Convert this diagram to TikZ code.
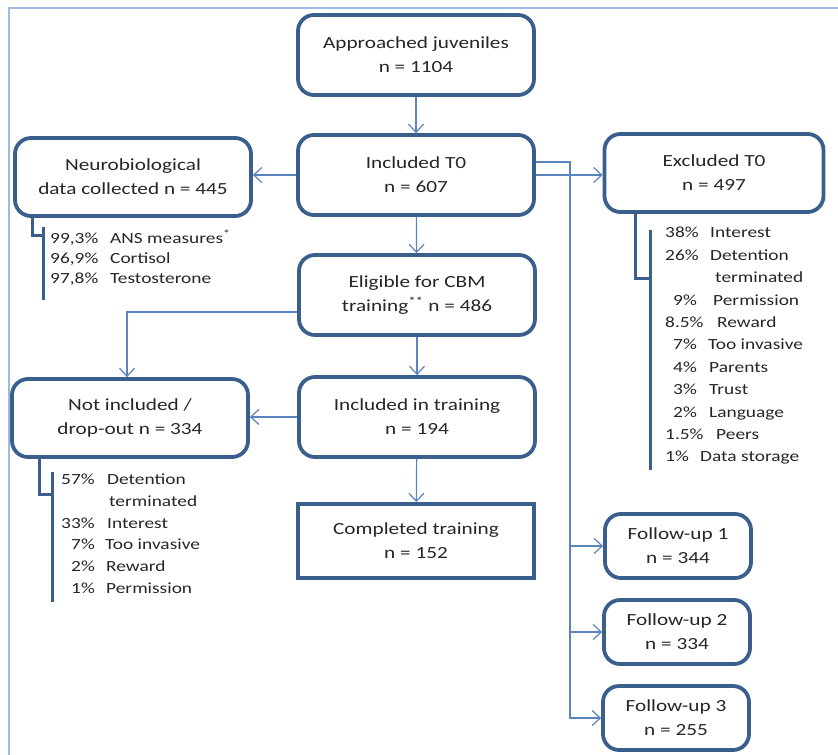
\documentclass[tikz,border=0pt]{standalone}
\usepackage{fontspec}
\setmainfont{Carlito}[FakeStretch=1.25]
\usepackage{xcolor}
\usepackage{tikz}
\usetikzlibrary{positioning,calc,arrows.meta}
\definecolor{boxblue}{HTML}{3B5F8C}
\definecolor{linkblue}{HTML}{5B84BF}
\definecolor{frameblue}{HTML}{9DBAE0}
\newcommand{\pctrow}[4]{\rlap{\hspace{#1pt}#2}\hspace{#3pt}#4}

\begin{document}
\begin{tikzpicture}[x=1pt, y=-1pt,
    box/.style={draw=boxblue, line width=3.8pt, rounded corners=16pt, align=center, text=black!85,
        minimum width=236pt, minimum height=80pt, font=\fontsize{17}{24}\selectfont},
    sqbox/.style={box, rounded corners=0pt},
    fubox/.style={box, minimum width=146pt, minimum height=64pt},
    list/.style={anchor=north west, inner sep=0pt, text=black!85, font=\fontsize{15.5}{#1}\selectfont},
    link/.style={draw=linkblue, line width=1.2pt},
    arr/.style={link, -{Straight Barb[length=8pt,width=15pt]}},
    brk/.style={draw=boxblue, line width=3pt}]
    \useasboundingbox (0,0) rectangle (838,755);
    \draw[frameblue, line width=1.2pt] (838,8) -- (9,8) -- (9,755);

    \node[box] (appr) at (416,55) {Approached juveniles\\n = 1104};
    \node[box] (incl) at (416,175) {Included T0\\n = 607};
    \node[box, minimum height=78pt] (neuro) at (133,177) {Neurobiological\\data collected n = 445};
    \node[box, minimum width=219pt, minimum height=78pt] (excl) at (714,173) {Excluded T0\\n = 497};
    \node[box] (elig) at (417,295) {Eligible for CBM\\training\textsuperscript{**} n = 486};
    \node[box] (intr) at (417,417) {Included in training\\n = 194};
    \node[sqbox, minimum height=74pt] (compl) at (416,541) {Completed training\\n = 152};
    \node[box, minimum height=78pt] (notin) at (130,418) {Not included /\\drop-out n = 334};
    \node[fubox] (fu1) at (678,546) {Follow-up 1\\n = 344};
    \node[fubox] (fu2) at (677,632) {Follow-up 2\\n = 334};
    \node[fubox] (fu3) at (676,718) {Follow-up 3\\n = 255};

    \draw[arr] (appr) -- (incl);
    \draw[arr] (incl.west) -- (incl.west -| neuro.east);
    \draw[arr] (incl.east) -- (incl.east -| excl.west);
    \draw[arr] (incl) -- (elig);
    \draw[arr] (elig) -- (intr);
    \draw[arr] (intr) -- (compl);
    \draw[arr] (intr.west) -- (intr.west -| notin.east);
    \draw[arr] ([yshift=-17pt]elig.west) -| ([xshift=-3pt]notin.north);
    \coordinate (trunk) at (570,162);
    \draw[arr] ([yshift=13pt]incl.east) -- (trunk) |- (fu3);
    \draw[arr] (trunk |- fu1) -- (fu1);
    \draw[arr] (trunk |- fu2) -- (fu2);

    \draw[brk] (32,216) -- (32,235) -- (43,235);
    \draw[brk] (43,227) -- (43,300);
    \draw[brk] (635,212) -- (635,278) -- (650,278);
    \draw[brk] (650,230) -- (650,470);
    \draw[brk] (39,458) -- (39,494) -- (52,494);
    \draw[brk] (52,472) -- (52,602);

    \node[list=20pt] (neurolist) at (50,229) {\begin{tabular}{@{}l@{}}
        \pctrow{0}{99,3\%}{60}{ANS measures\textsuperscript{*}}\\
        \pctrow{0}{96,9\%}{60}{Cortisol}\\
        \pctrow{0}{97,8\%}{60}{Testosterone}
    \end{tabular}};
    \node[list=22.4pt] (excllist) at (665,222) {\begin{tabular}{@{}l@{}}
        \pctrow{0}{38\%}{45}{Interest}\\
        \pctrow{0}{26\%}{45}{Detention}\\
        \pctrow{0}{}{50}{terminated}\\
        \pctrow{8}{9\%}{48}{Permission}\\
        \pctrow{0}{8.5\%}{52}{Reward}\\
        \pctrow{8}{7\%}{43}{Too invasive}\\
        \pctrow{8}{4\%}{44}{Parents}\\
        \pctrow{8}{3\%}{44}{Trust}\\
        \pctrow{8}{2\%}{44}{Language}\\
        \pctrow{0}{1.5\%}{51}{Peers}\\
        \pctrow{0}{1\%}{35}{Data storage}
    \end{tabular}};
    \node[list=21.8pt] (notinlist) at (61,469) {\begin{tabular}{@{}l@{}}
        \pctrow{0}{57\%}{46}{Detention}\\
        \pctrow{0}{}{48}{terminated}\\
        \pctrow{0}{33\%}{46}{Interest}\\
        \pctrow{10}{7\%}{44}{Too invasive}\\
        \pctrow{10}{2\%}{45}{Reward}\\
        \pctrow{10}{1\%}{45}{Permission}
    \end{tabular}};
\end{tikzpicture}
\end{document}
